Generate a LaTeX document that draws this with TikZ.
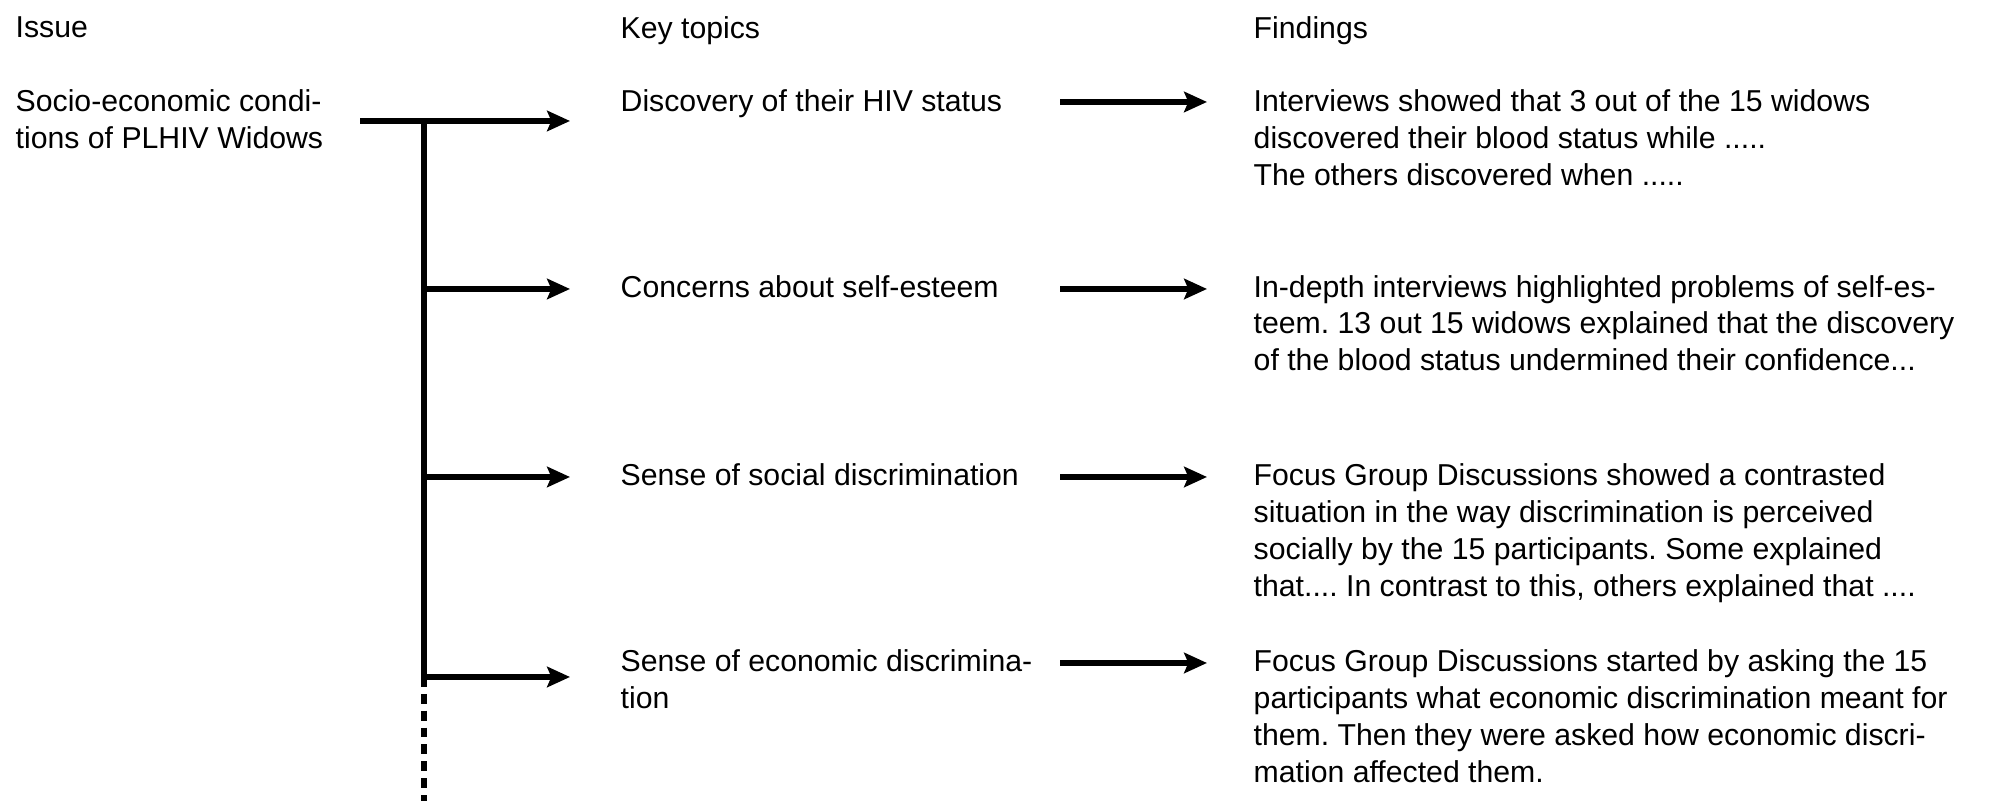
\documentclass[tikz,border=0pt]{standalone}
\usepackage{fontspec}
\setmainfont{Liberation Sans}
\usetikzlibrary{arrows.meta,positioning}

\tikzset{
    txt/.style={anchor=north west, inner sep=0pt, align=left,
        font=\fontsize{8.6}{10.5}\selectfont\frenchspacing},
    conn/.style={line width=1.8pt, -{Stealth[length=6.5pt,width=5.8pt,inset=1.2pt]}},
    trunk/.style={line width=1.8pt},
}

\begin{document}
\begin{tikzpicture}
    \useasboundingbox (0,0) rectangle (19.95,8.01);

    % Headers
    \node[txt] (hissue) at (0.15,7.85) {Issue};
    \node[txt] (htopics) at (6.20,7.85) {Key topics};
    \node[txt] (hfind) at (12.53,7.85) {Findings};

    % Issue
    \node[txt] (issue) at (0.15,7.12) {Socio-economic condi-\\tions of PLHIV Widows};

    % Key topics
    \node[txt] (t1) at (6.20,7.12) {Discovery of their HIV status};
    \node[txt] (t2) at (6.20,5.265) {Concerns about self-esteem};
    \node[txt] (t3) at (6.20,3.38) {Sense of social discrimination};
    \node[txt] (t4) at (6.20,1.52) {Sense of economic discrimina-\\tion};

    % Findings
    \node[txt] (f1) at (12.53,7.12) {Interviews showed that 3 out of the 15 widows\\
        discovered their blood status while .....\\
        The others discovered when .....};
    \node[txt] (f2) at (12.53,5.265) {In-depth interviews highlighted problems of self-es-\\
        teem. 13 out 15 widows explained that the discovery\\
        of the blood status undermined their confidence...};
    \node[txt] (f3) at (12.53,3.38) {Focus Group Discussions showed a contrasted\\
        situation in the way discrimination is perceived\\
        socially by the 15 participants. Some explained\\
        that.... In contrast to this, others explained that ....};
    \node[txt] (f4) at (12.53,1.52) {Focus Group Discussions started by asking the 15\\
        participants what economic discrimination meant for\\
        them. Then they were asked how economic discri-\\
        mation affected them.};

    % Tree
    \coordinate (root) at (3.60,6.80);
    \coordinate (fork) at (4.24,6.80);
    \coordinate (e1) at (5.70,6.80);
    \foreach \i/\y in {2/5.12, 3/3.24, 4/1.24} {
        \coordinate (b\i) at (4.24,\y);
        \coordinate (e\i) at (5.70,\y);
    }
    \coordinate (tail) at (4.24,0);

    \draw[conn] (root) -- (e1);
    \draw[trunk] (fork) -- (b4);
    \draw[trunk, dash pattern=on 2.8pt off 2pt] (b4) -- (tail);
    \foreach \i in {2,3,4}
        \draw[conn] (b\i) -- (e\i);

    % Topic to finding
    \foreach \i/\y in {1/6.99, 2/5.12, 3/3.24, 4/1.38} {
        \coordinate (m\i) at (10.60,\y);
        \coordinate (n\i) at (12.07,\y);
        \draw[conn] (m\i) -- (n\i);
    }
\end{tikzpicture}
\end{document}
